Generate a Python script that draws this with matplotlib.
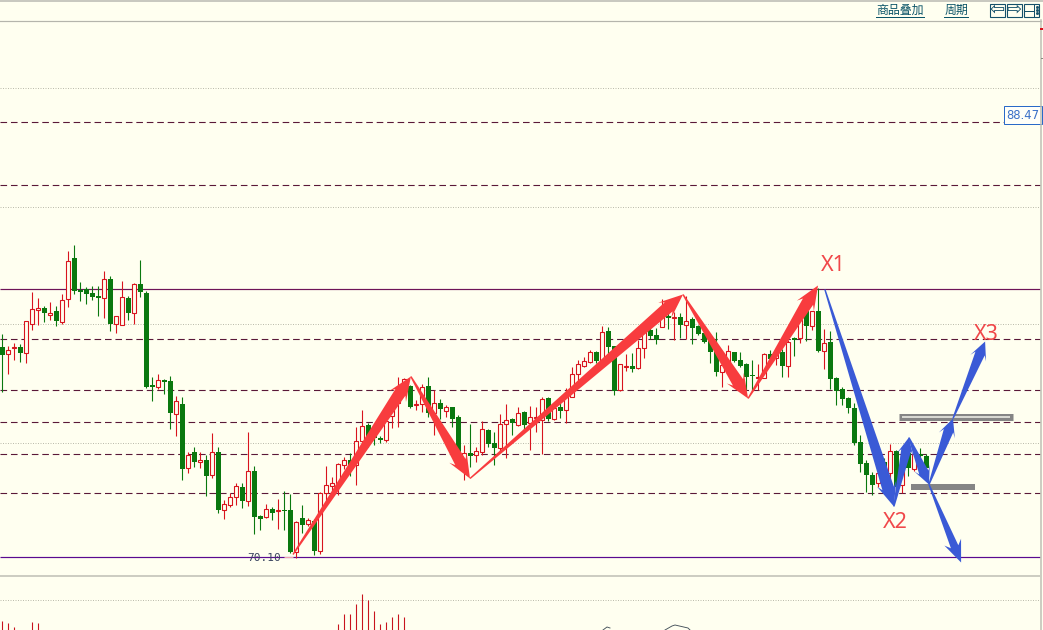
import numpy as np
import matplotlib
matplotlib.use('Agg')
import matplotlib.pyplot as plt
from matplotlib.patches import Polygon, Rectangle
from matplotlib.transforms import IdentityTransform

# prices are read as ticks above the 70.10 low, 88.47 sits 435 ticks up
low_price = 70.10
high_label = 88.47
tick_size = (high_label - low_price) / 435

opens = [210,203,209,210,204,233,247,249,242,246,235,258,299,267,268,264,261,259,278,233,232,259,244,273,264,
         172,170,177,176,143,153,89,105,95,97,82,105,47,52,60,70,56,86,41,40,48,46,47,47,5,39,33,36,6,64,71,
         74,92,97,92,116,132,121,119,117,141,154,165,171,152,153,171,144,154,146,150,140,97,104,102,105,127,
         114,109,133,138,132,145,134,139,137,159,138,150,147,160,183,191,195,205,196,226,211,167,190,191,189,
         209,226,222,230,241,239,240,232,238,231,224,216,206,185,192,205,197,192,182,179,179,203,199,205,191,
         219,219,247,231,246,206,215,179,168,159,149,115,94,82,74,95,84,106,72,104,88,103,101]
closes = [202,207,210,204,235,248,249,244,244,236,257,296,266,265,263,260,259,278,233,241,260,244,273,265,170,
          170,177,175,144,155,88,102,95,97,81,105,47,53,60,71,56,86,40,38,48,44,47,46,5,35,32,37,6,64,72,74,
          93,97,91,116,131,115,119,117,136,154,169,178,150,153,170,144,154,148,150,138,102,104,101,106,128,113,
          109,133,137,134,144,132,140,140,158,138,149,146,164,183,192,196,205,196,225,210,166,192,191,188,209,
          225,221,217,240,239,240,232,236,229,223,215,205,185,192,206,196,191,180,181,180,203,198,205,191,215,
          217,237,231,246,206,214,178,166,158,149,114,93,82,72,84,79,106,70,92,89,103,101,89]
highs = [223,211,214,213,236,265,259,251,255,251,263,306,312,275,270,271,271,286,281,241,276,261,274,297,266,
         180,183,178,181,161,160,105,110,105,102,124,110,57,64,74,74,125,91,42,53,50,58,66,63,36,52,39,38,65,
         91,80,94,100,104,130,147,134,127,121,137,162,180,179,172,157,173,180,167,158,152,150,142,112,133,110,
         136,128,125,143,153,139,150,146,151,150,160,160,154,155,169,190,197,200,207,206,231,230,211,192,203,
         204,217,229,230,229,258,250,245,244,261,240,232,232,219,225,205,212,205,205,194,197,193,204,207,210,
         208,217,220,242,248,246,269,228,226,180,170,160,154,122,97,85,87,99,113,107,100,107,105,109,103]
lows = [165,183,197,195,194,227,232,235,237,231,233,250,263,256,253,257,241,239,226,224,232,237,233,260,169,
        156,168,163,128,121,77,84,90,89,61,79,44,38,50,52,49,51,23,27,39,37,28,27,4,-1,24,31,2,3,57,64,62,88,
        81,72,107,110,112,114,115,129,130,162,149,147,145,140,122,138,140,130,90,77,90,95,102,110,92,106,99,
        122,131,125,107,125,103,136,137,139,134,160,174,190,194,194,195,200,162,166,186,185,188,199,218,213,
        230,228,217,219,218,213,222,214,194,181,170,187,195,190,167,167,167,179,197,192,180,180,201,214,216,
        227,205,188,168,152,152,144,112,85,65,62,70,67,70,64,64,81,86,90,80]

volume_index = [0,1,2,5,6,56,57,58,59,60,61,62,63,64,65,66,67]
volume_height = [9,7,3,8,7,6,16,16,26,36,30,19,6,8,13,16,13]

dashed_levels = [435,372,218,167,135,103,64]
dotted_levels = [469,350,233,114,-43]
resistance_level = 268
support_level = 0
volume_top_line = -19.5

# swing arrows as (bar index, ticks)
red_swing = [(48.45,2),(68.1,180),(77.95,78),(113.45,262),(124.3,158),(135.95,271)]
blue_swing = [(137.1,267),(148.6,50),(151.1,119),(154.45,72),(158.45,138),(163.8,215)]
blue_drop = [(154.45,72),(159.8,-6)]
swing_labels = [('X1',138.5,291),('X2',148.8,34),('X3',164,222)]

BG = '#FFFFF0'
UP = '#D8141E'
DOWN = '#0A780F'
RED_ARROW = '#F83C3E'
BLUE_ARROW = '#3A5AD6'
PX = 0.72  # one pixel in points at dpi 100


def to_price(t):
    return low_price + np.asarray(t, dtype=float) * tick_size


# Tapered arrow, built in display pixels so widths stay true
def draw_arrow(ax, start, end, color, shaft=12, head=20, length=24):
    s = ax.transData.transform((start[0], to_price(start[1])))
    e = ax.transData.transform((end[0], to_price(end[1])))
    u = (e - s) / np.hypot(*(e - s))
    n = np.array([-u[1], u[0]])
    neck = e - u * (length - 5)
    wing = e - u * length
    pts = [s + n * 0.7, neck + n * shaft / 2, wing + n * head / 2, e,
           wing - n * head / 2, neck - n * shaft / 2, s - n * 0.7]
    ax.add_patch(Polygon(pts, closed=True, fc=color, ec='none', transform=IdentityTransform(), zorder=6))


fig = plt.figure(figsize=(10.43, 6.3), dpi=100, facecolor=BG)
ax = fig.add_axes([0, 0, 1, 1], facecolor=BG)
ax.set_xlim(-0.383, 173.45)
ax.set_ylim(to_price(-73.5), to_price(556.5))
ax.axis('off')

# Levels
ax.hlines(to_price(dotted_levels), -0.383, 173, color='#BDBDAE', lw=PX, linestyles=(0, (1, 1.5)), zorder=1)
ax.hlines(to_price(dashed_levels[1:]), -0.383, 173, color='#5A1838', lw=PX * 1.1, linestyles=(0, (6, 3.5)), zorder=1)
ax.hlines(to_price(dashed_levels[0]), -0.383, 167, color='#5A1838', lw=PX * 1.1, linestyles=(0, (6, 3.5)), zorder=1)
ax.hlines(to_price(resistance_level), -0.383, 173, color='#6E1458', lw=PX * 1.2, zorder=1)
ax.hlines(to_price(support_level), -0.383, 173, color='#5A0A90', lw=PX * 1.2, zorder=1)
ax.hlines(to_price(volume_top_line), -0.383, 173, color='#BDBDB4', lw=PX * 1.5, zorder=1)

# Candles
idx = np.arange(len(opens))
o, c, h, l = [np.array(a, dtype=float) for a in (opens, closes, highs, lows)]
up = c >= o
ax.vlines(idx[up], to_price(l[up]), to_price(h[up]), color=UP, lw=PX * 1.1, zorder=2)
ax.vlines(idx[~up], to_price(l[~up]), to_price(h[~up]), color=DOWN, lw=PX * 1.1, zorder=2)
ax.bar(idx[up], to_price(c[up]) - to_price(o[up]), bottom=to_price(o[up]), width=4 / 6,
       facecolor=BG, edgecolor=UP, linewidth=PX * 1.1, zorder=3)
ax.bar(idx[~up], to_price(o[~up]) - to_price(c[~up]), bottom=to_price(c[~up]), width=5 / 6,
       color=DOWN, linewidth=0, zorder=3)

# Volume sticks along the bottom edge
ax.vlines(volume_index, to_price(-73.5), to_price(-73.5 + np.array(volume_height)), color='#C8141E', lw=PX * 1.1, zorder=2)

# Arrows
for a, b in zip(red_swing[:-1], red_swing[1:]):
    draw_arrow(ax, a, b, RED_ARROW)
for a, b in zip(blue_swing[:-1], blue_swing[1:]):
    short = np.hypot(a[0] - b[0], a[1] - b[1]) < 100
    draw_arrow(ax, a, b, BLUE_ARROW, shaft=10 if short else 12, head=17 if short else 20, length=18 if short else 24)
draw_arrow(ax, blue_drop[0], blue_drop[1], BLUE_ARROW, shaft=8, head=18, length=22)

# Target bars
ax.hlines(to_price(139.5), 149.45, 168.45, color='#858585', lw=PX * 7, zorder=5)
ax.hlines(to_price(139.5), 150, 168, color='#F4F4EC', lw=PX * 1.5, zorder=5)
ax.hlines(to_price(70), 151.45, 162.1, color='#858585', lw=PX * 6, zorder=5)

for name, i, t in swing_labels:
    ax.text(i, to_price(t), name, color='#F0484A', fontsize=15.5, ha='center', va='center',
            family=['Noto Sans', 'DejaVu Sans'], zorder=7)

ax.text(40.9, to_price(-1), '70.10', family='DejaVu Sans Mono', fontsize=8, color='#3A4560', ha='left', va='center', zorder=7)
ax.hlines(to_price(0), 47, 48.5, color='#F0A0B0', lw=PX, zorder=4)
ax.text(170.1, to_price(441.5), '88.47', fontsize=8.4, color='#3A70C8', ha='center', va='center',
        family='DejaVu Sans', zorder=8,
        bbox=dict(boxstyle='square,pad=0.2', fc='#FFFFF8', ec='#2A6AC8', lw=PX))

# Window chrome on a pixel overlay
ui = fig.add_axes([0, 0, 1, 1], facecolor='none')
ui.set_xlim(0, 1043)
ui.set_ylim(630, 0)
ui.axis('off')
ui.add_patch(Rectangle((0, 0), 1043, 2, fc='#C9C9C0', ec='none'))
ui.plot([0, 1041], [20.5, 20.5], color='#B5B5AC', lw=PX * 1.2)
ui.plot([1041, 1041], [20, 630], color='#BDBDB4', lw=PX * 1.5)
ui.plot([1041, 1043], [29, 29], color='#D8141E', lw=PX * 2)
ui.plot([1041, 1043], [58, 58], color='#8A8A80', lw=PX)

cjk = ['Noto Sans CJK SC', 'DejaVu Sans']
ui.text(900, 10.5, '商品叠加', family=cjk, fontsize=8.6, color='#0B5468', ha='center', va='center')
ui.plot([876, 924], [16.5, 16.5], color='#0B5468', lw=PX)
ui.text(956, 10.5, '周期', family=cjk, fontsize=8.6, color='#0B5468', ha='center', va='center')
ui.plot([944, 968], [16.5, 16.5], color='#0B5468', lw=PX)

for x0, glyph in [(990, '⇦'), (1006.5, '⇨'), (1023.5, None)]:
    ui.add_patch(Rectangle((x0, 4), 15, 13, fc='none', ec='#14506A', lw=PX * 1.1))
    if glyph:
        ui.text(x0 + 7.5, 9.5, glyph, family='DejaVu Sans', fontsize=13, color='#14506A', ha='center', va='center')
ui.plot([1023.5, 1034], [10.5, 10.5], color='#14506A', lw=PX)
ui.plot([1034, 1034], [4, 17], color='#14506A', lw=PX)
ui.plot([1036.5] * 3, [7, 10, 13], color='#14506A', lw=0, marker='s', ms=1)

# Cut-off outlines at the lower edge
ui.plot([603, 607, 610], [630, 627, 628], color='#44505A', lw=PX * 0.9)
ui.plot([665, 672, 675, 688, 690], [630, 626, 625, 628, 630], color='#44505A', lw=PX * 0.9)

fig.savefig('out.png', dpi=100, facecolor=BG)
